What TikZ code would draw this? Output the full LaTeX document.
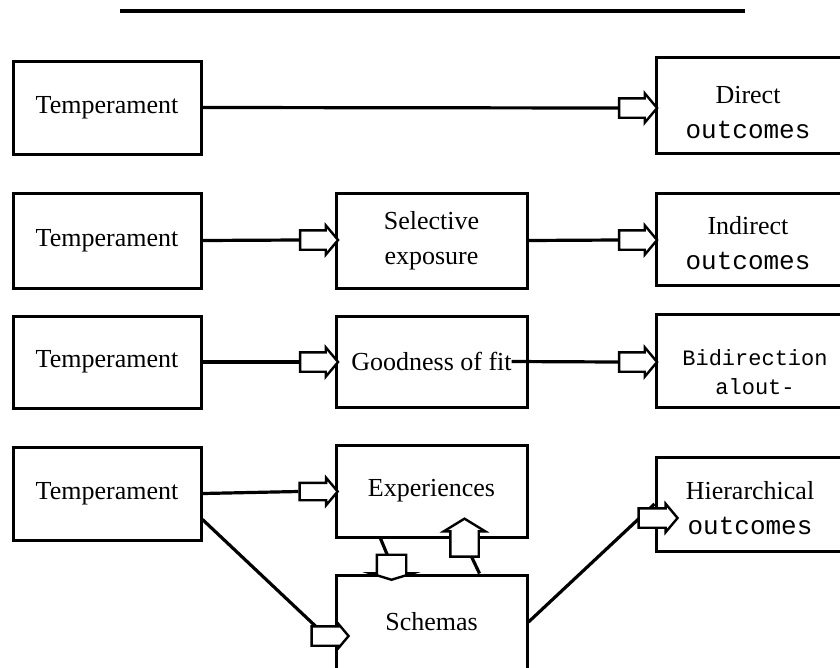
\documentclass[tikz,border=0pt]{standalone}
\usepackage{fontspec}
\setmainfont{Liberation Serif}
\setmonofont{Liberation Mono}
\usetikzlibrary{shapes.arrows,backgrounds}
\begin{document}
\begin{tikzpicture}[x=1pt,y=-1pt,
 box/.style={draw,line width=3pt,inner sep=0pt,font=\fontsize{26}{35}\selectfont,align=center},
 lbl/.style={inner sep=0pt,font=\fontsize{26}{35}\selectfont,align=center},
 link/.style={line width=3.2pt},
 barrow/.style={single arrow,draw,fill=white,line width=2.4pt,inner xsep=0pt,inner ysep=8.5pt,minimum width=0pt,minimum height=38pt,single arrow head extend=5pt,single arrow tip angle=100},
]
\useasboundingbox (0,0) rectangle (840,667);
\clip (0,0) rectangle (840,667);

% rule at top
\coordinate (r1) at (120,11);
\coordinate (r2) at (745,11);
\draw[link] (r1) -- (r2);

% boxes
\node[box,minimum width=188pt,minimum height=93pt] (t1) at (107,107.5) {Temperament};
\node[box,minimum width=188pt,minimum height=95pt] (t2) at (107,240.5) {Temperament};
\node[box,minimum width=188pt,minimum height=92pt] (t3) at (107,362) {Temperament};
\node[box,minimum width=188pt,minimum height=93pt] (t4) at (107,493.5) {Temperament};

\node[box,minimum width=191pt,minimum height=95pt] (sel) at (431.5,240.5) {Selective\\exposure};
\node[box,minimum width=191pt,minimum height=91pt] (good) at (431.5,361.5) {Goodness of fit};
\node[box,minimum width=191pt,minimum height=92pt] (exp) at (431.5,491) {Experiences};
\node[box,minimum width=191pt,minimum height=94pt] (sch) at (431.5,622) {Schemas};

\node[box,minimum width=204pt,minimum height=96pt] (direct) at (758,105) {};
\node[lbl] (directT) at (748,113) {Direct\\\texttt{outcomes}};
\node[box,minimum width=204pt,minimum height=92pt] (indirect) at (758,239) {};
\node[lbl] (indirectT) at (748,243) {Indirect\\\texttt{outcomes}};
\node[box,minimum width=204pt,minimum height=93pt] (bidir) at (758,360.5) {};
\node[lbl,font=\fontsize{22}{29}\selectfont] (bidirT) at (755,372) {\texttt{Bidirection}\\\texttt{alout-}};
\node[box,minimum width=204pt,minimum height=94pt] (hier) at (758,504) {};
\node[lbl] (hierT) at (750,508) {Hierarchical\\\texttt{outcomes}};

% block arrows
\node[barrow] (a1) at (634,108) {};
\node[barrow] (a2a) at (315,240) {};
\node[barrow] (a2b) at (634,240) {};
\node[barrow] (a3a) at (315,362) {};
\node[barrow] (a3b) at (634,362) {};
\node[barrow,inner ysep=7.5pt] (a4a) at (315,491.5) {};
\node[barrow,minimum height=37pt,single arrow head extend=2.5pt] (a4s) at (326,636) {};
\node[barrow,minimum height=39pt,single arrow head extend=4.5pt] (a4h) at (654,518) {};
\node[barrow,rotate=-90,inner ysep=13.5pt,minimum height=25pt,single arrow head extend=6.5pt,single arrow tip angle=146] (dn) at (391.5,565) {};
\node[barrow,rotate=90,inner ysep=13pt,minimum height=38pt,single arrow head extend=6.5pt,single arrow tip angle=117] (up) at (464.5,542) {};

% connectors
\begin{scope}[on background layer]
\draw[link] (t1.east) -- (a1.west);
\draw[link] (t2.east) -- (a2a.west);
\draw[link] (sel.east) -- (a2b.west);
\draw[link] (t3.east) -- (a3a.west);
\draw[link] ([xshift=-17pt]good.east) -- (a3b.west);
\draw[link] (t4.east) -- (a4a.west);
\draw[link] ([yshift=22pt]t4.south east) -- (a4s.center);
\draw[link] (sch.east) -- (hier.west);
\draw[link] ([xshift=46pt]exp.south west) -- (dn.center);
\draw[link] ([xshift=-49pt]sch.north east) -- (up.center);
\end{scope}
\end{tikzpicture}
\end{document}
